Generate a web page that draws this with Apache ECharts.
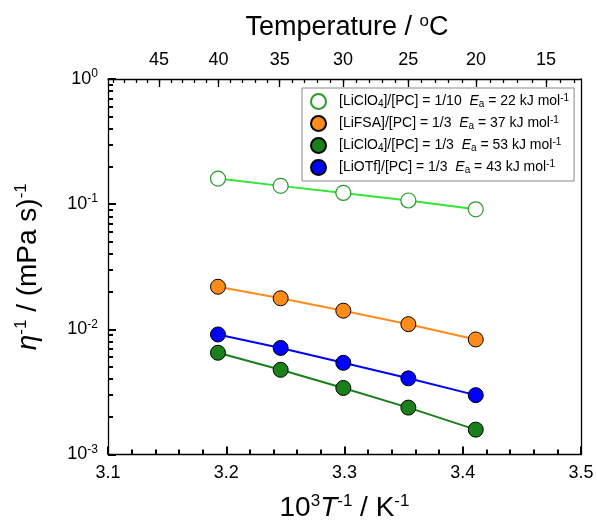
<!DOCTYPE html>
<html>
<head>
<meta charset="utf-8">
<script src="https://cdn.jsdelivr.net/npm/echarts@6/dist/echarts.min.js"></script>
<style>html,body{margin:0;padding:0;background:#fff}#c{width:597px;height:527px}</style>
</head>
<body>
<div id="c"></div>
<script>
// ---- data ----
const invT = [3.193, 3.246, 3.299, 3.354, 3.411];           // 10^3/T (K^-1), 40..20 °C
const seriesNames = ['LiClO4_10', 'LiFSA_3', 'LiClO4_3', 'LiOTf_3'];
const yLiClO4_10 = [0.160, 0.140, 0.123, 0.107, 0.091];
const yLiFSA_3   = [0.0219, 0.0177, 0.0141, 0.0110, 0.0083];
const yLiClO4_3  = [0.0065, 0.00475, 0.0034, 0.00237, 0.00158];
const yLiOTf_3   = [0.0091, 0.0071, 0.0054, 0.00406, 0.00298];
const topTickC = [45, 40, 35, 30, 25, 20, 15];
const topMinorC = [];
for (let t = 13; t <= 49; t++) topMinorC.push(t);
const bottomMinor = [];
for (let k = 0; k <= 20; k++) bottomMinor.push(+(3.1 + k * 0.02).toFixed(2));
const yMinorLog = [];
[-3, -2, -1].forEach(e => { for (let k = 2; k <= 9; k++) yMinorLog.push(e + Math.log10(k)); });
const legendLabels = {
  LiClO4_10: '[LiClO{sub|4}]/[PC] = 1/10  {it|E}{sub|a} = 22 kJ mol{sup|-1}',
  LiFSA_3:   '[LiFSA]/[PC] = 1/3  {it|E}{sub|a} = 37 kJ mol{sup|-1}',
  LiClO4_3:  '[LiClO{sub|4}]/[PC] = 1/3  {it|E}{sub|a} = 53 kJ mol{sup|-1}',
  LiOTf_3:   '[LiOTf]/[PC] = 1/3  {it|E}{sub|a} = 43 kJ mol{sup|-1}'
};

const toInv = c => 1000 / (c + 273.15);
const FONT = 'Liberation Sans, Arial, sans-serif';
const pair = ys => invT.map((x, i) => [x, ys[i]]);

const chart = echarts.init(document.getElementById('c'), null, {renderer: 'canvas'});
const option = {
  animation: false,
  backgroundColor: '#fff',
  textStyle: {fontFamily: FONT, color: '#000'},
  title: {
    text: 'Temperature / {sup|o}C',
    left: 342, top: 8, textAlign: 'center',
    textStyle: {fontFamily: FONT, fontSize: 27, fontWeight: 'normal', color: '#000',
      rich: {sup: {fontSize: 17, verticalAlign: 'top', padding: [0, 0, 12, 0], fontFamily: FONT}}}
  },
  grid: {left: 108, right: 16, top: 79, bottom: 68},
  legend: {
    orient: 'vertical', left: 302, top: 88,
    data: seriesNames,
    icon: 'circle', itemWidth: 15, itemHeight: 15, itemGap: 5,
    padding: [5, 5, 5, 8],
    borderColor: '#888', borderWidth: 1, borderRadius: 0,
    formatter: n => legendLabels[n],
    textStyle: {fontFamily: FONT, fontSize: 14, color: '#000', lineHeight: 16, padding: [0, 0, 0, 8],
      rich: {
        sub: {fontSize: 10, lineHeight: 16, verticalAlign: 'bottom', padding: [6, 0, 0, 0], fontFamily: FONT},
        sup: {fontSize: 10, lineHeight: 16, verticalAlign: 'top', padding: [0, 0, 6, 0], fontFamily: FONT},
        it: {fontSize: 14, lineHeight: 16, fontStyle: 'italic', fontFamily: FONT}
      }}
  },
  xAxis: [
    {
      type: 'value', min: 3.1, max: 3.5, interval: 0.1, position: 'bottom',
      axisLine: {show: true, onZero: false, lineStyle: {color: '#000', width: 1.3}},
      axisTick: {show: true, inside: true, length: 8, lineStyle: {color: '#000', width: 2}},
      splitLine: {show: false},
      axisLabel: {fontSize: 18, color: '#000', fontFamily: FONT, margin: 10, formatter: v => v.toFixed(1)},
      name: '10{sup|3}{it|T}{sup|-1} / K{sup|-1}',
      nameLocation: 'middle', nameGap: 38,
      nameTextStyle: {fontSize: 28, color: '#000', fontFamily: FONT,
        rich: {sup: {fontSize: 17, verticalAlign: 'top', padding: [0, 0, 14, 0], fontFamily: FONT},
               it: {fontSize: 28, fontStyle: 'italic', fontFamily: FONT}}}
    },
    {
      type: 'value', min: 3.1, max: 3.5, position: 'bottom',
      axisLine: {show: false, onZero: false},
      axisTick: {show: true, inside: true, length: 5, lineStyle: {color: '#000', width: 2}, customValues: bottomMinor},
      axisLabel: {show: false},
      splitLine: {show: false}
    },
    {
      type: 'value', min: 3.1, max: 3.5, position: 'top',
      axisLine: {show: true, onZero: false, lineStyle: {color: '#000', width: 1.3}},
      axisTick: {show: true, inside: true, length: 8, lineStyle: {color: '#000', width: 1.3}, customValues: topTickC.map(toInv)},
      axisLabel: {show: true, fontSize: 18, color: '#000', fontFamily: FONT, margin: 10,
        customValues: topTickC.map(toInv), formatter: v => String(Math.round(1000 / v - 273.15))},
      splitLine: {show: false}
    },
    {
      type: 'value', min: 3.1, max: 3.5, position: 'top',
      axisLine: {show: false, onZero: false},
      axisTick: {show: true, inside: true, length: 4, lineStyle: {color: '#000', width: 1.3}, customValues: topMinorC.map(toInv)},
      axisLabel: {show: false},
      splitLine: {show: false}
    }
  ],
  yAxis: [
    {
      type: 'log', logBase: 10, min: 0.001, max: 1, interval: 1, position: 'left',
      axisLine: {show: true, onZero: false, lineStyle: {color: '#000', width: 1.3}},
      axisTick: {show: true, inside: true, length: 8, lineStyle: {color: '#000', width: 2}},
      splitLine: {show: false},
      axisLabel: {fontSize: 18, color: '#000', fontFamily: FONT, margin: 10,
        formatter: v => '10{sup|' + Math.round(Math.log10(v)) + '}',
        rich: {sup: {fontSize: 12, verticalAlign: 'top', padding: [0, 0, 10, 0], fontFamily: FONT}}},
      name: '{it|η}{sup|-1} / (mPa s){sup|-1}',
      nameLocation: 'middle', nameGap: 64, nameRotate: 90,
      nameTextStyle: {fontSize: 28, color: '#000', fontFamily: FONT,
        rich: {sup: {fontSize: 17, verticalAlign: 'top', padding: [0, 0, 14, 0], fontFamily: FONT},
               it: {fontSize: 28, fontStyle: 'italic', fontFamily: FONT}}}
    },
    {
      type: 'value', min: -3, max: 0, position: 'left',
      axisLine: {show: false, onZero: false},
      axisTick: {show: true, inside: true, length: 5, lineStyle: {color: '#000', width: 2}, customValues: yMinorLog},
      axisLabel: {show: false},
      splitLine: {show: false}
    },
    {
      type: 'value', min: -3, max: 0, position: 'right',
      axisLine: {show: true, onZero: false, lineStyle: {color: '#000', width: 1.3}},
      axisTick: {show: false},
      axisLabel: {show: false},
      splitLine: {show: false}
    }
  ],
  series: [
    {name: 'LiClO4_10', type: 'line', data: pair(yLiClO4_10), symbol: 'circle', symbolSize: 15,
      lineStyle: {color: '#33e633', width: 2}, itemStyle: {color: '#fff', borderColor: '#2a9a2a', borderWidth: 1.2}, z: 3},
    {name: 'LiFSA_3', type: 'line', data: pair(yLiFSA_3), symbol: 'circle', symbolSize: 15,
      lineStyle: {color: '#ff8c1a', width: 2}, itemStyle: {color: '#ff8c1a', borderColor: '#000', borderWidth: 1}, z: 3},
    {name: 'LiClO4_3', type: 'line', data: pair(yLiClO4_3), symbol: 'circle', symbolSize: 15,
      lineStyle: {color: '#1a801a', width: 2}, itemStyle: {color: '#1a801a', borderColor: '#000', borderWidth: 1}, z: 3},
    {name: 'LiOTf_3', type: 'line', data: pair(yLiOTf_3), symbol: 'circle', symbolSize: 15,
      lineStyle: {color: '#0000ff', width: 2}, itemStyle: {color: '#0000ff', borderColor: '#000', borderWidth: 1}, z: 3}
  ]
};
chart.setOption(option);
</script>
</body>
</html>
